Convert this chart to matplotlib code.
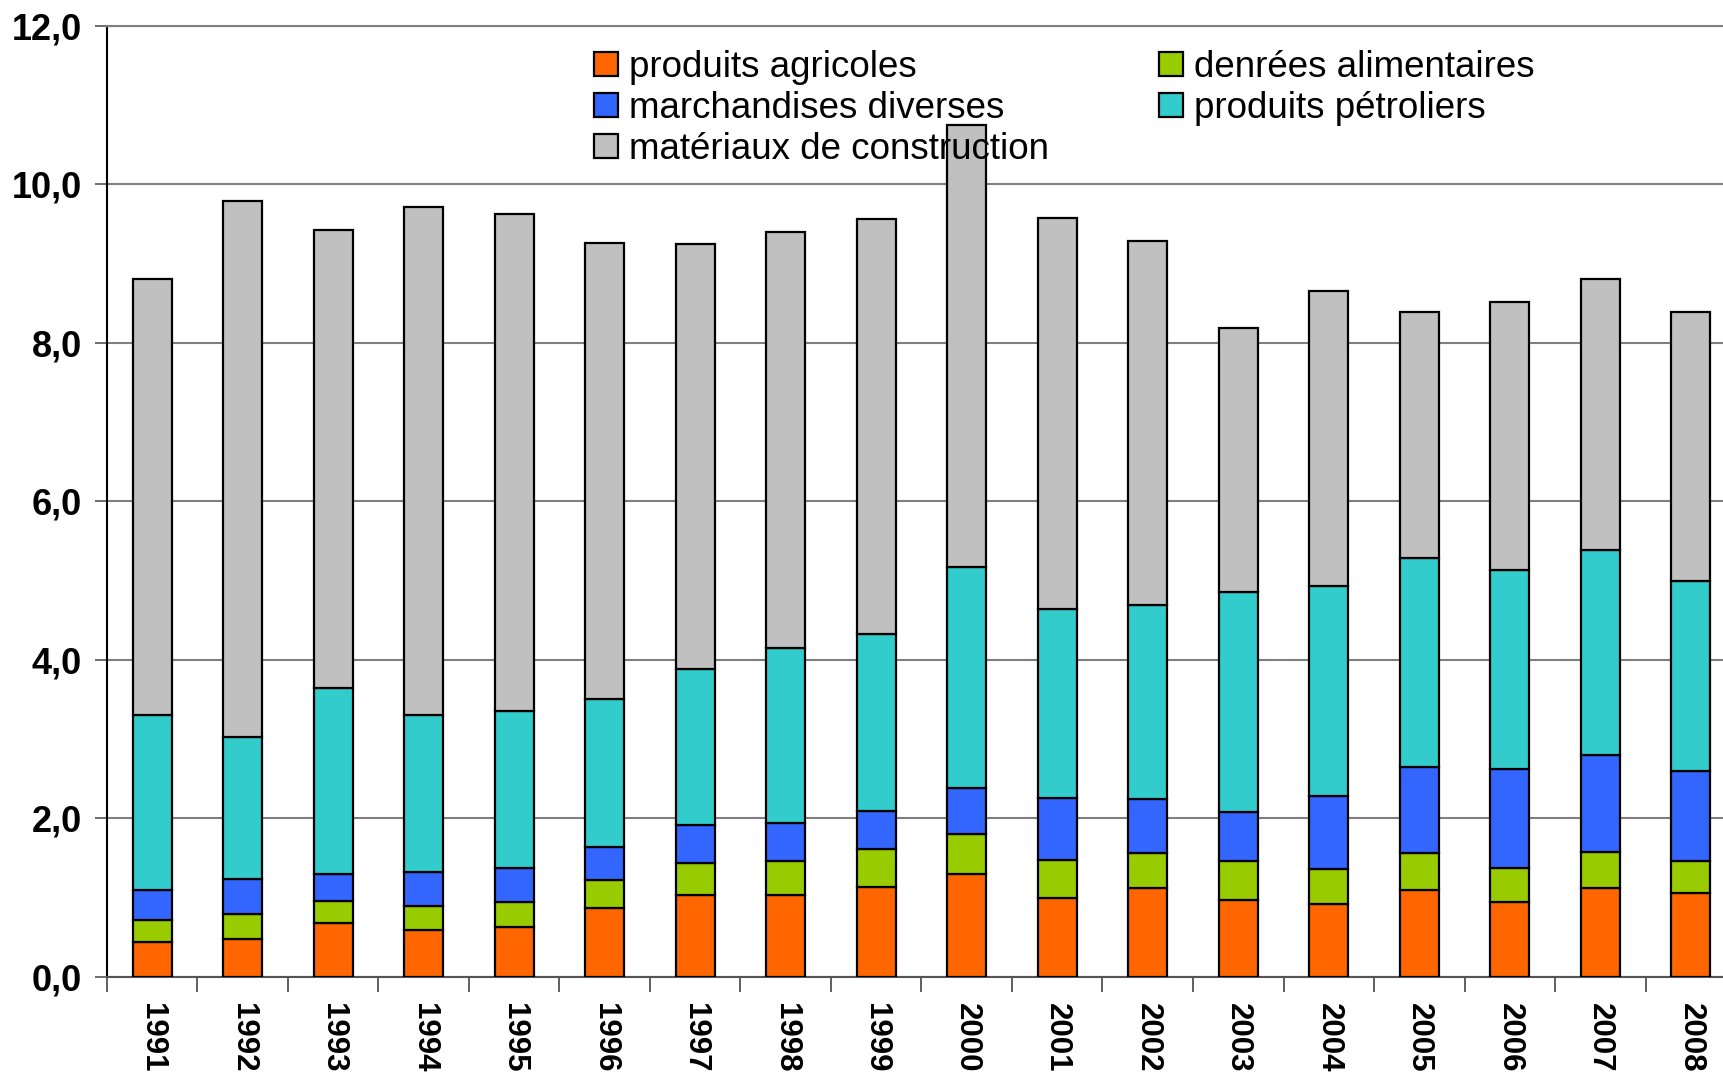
import numpy as np
import matplotlib
matplotlib.use("Agg")
import matplotlib.pyplot as plt
from matplotlib.patches import Patch
from matplotlib.ticker import FuncFormatter, MultipleLocator

plt.rcParams['font.family'] = ['Liberation Sans', 'DejaVu Sans']

years = ['1991', '1992', '1993', '1994', '1995', '1996', '1997', '1998', '1999',
         '2000', '2001', '2002', '2003', '2004', '2005', '2006', '2007', '2008']

# values per category (stack order bottom -> top)
agricoles = [0.44, 0.48, 0.68, 0.59, 0.63, 0.87, 1.04, 1.04, 1.14,
             1.30, 1.00, 1.12, 0.97, 0.92, 1.10, 0.94, 1.12, 1.06]
denrees = [0.28, 0.32, 0.28, 0.31, 0.31, 0.35, 0.40, 0.42, 0.48,
           0.50, 0.48, 0.44, 0.49, 0.44, 0.46, 0.44, 0.46, 0.40]
marchandises = [0.38, 0.44, 0.34, 0.42, 0.44, 0.42, 0.48, 0.48, 0.48,
                0.58, 0.78, 0.68, 0.62, 0.92, 1.09, 1.24, 1.22, 1.14]
petroliers = [2.21, 1.79, 2.34, 1.99, 1.98, 1.87, 1.96, 2.21, 2.23,
              2.79, 2.38, 2.45, 2.78, 2.65, 2.64, 2.51, 2.59, 2.39]
construction = [5.50, 6.76, 5.79, 6.40, 6.27, 5.75, 5.37, 5.25, 5.23,
                5.58, 4.94, 4.60, 3.33, 3.72, 3.10, 3.38, 3.42, 3.40]

series = [
    ('produits agricoles', agricoles, '#FF6600'),
    ('denrées alimentaires', denrees, '#99CC00'),
    ('marchandises diverses', marchandises, '#3366FF'),
    ('produits pétroliers', petroliers, '#33CCCC'),
    ('matériaux de construction', construction, '#C0C0C0'),
]

fig = plt.figure(figsize=(17.24, 10.76), dpi=100)
ax = fig.add_axes([0.062, 0.092, 0.945, 0.884])

x = np.arange(len(years))
bottom = np.zeros(len(years))
handles = {}
for name, vals, col in series:
    ax.bar(x, vals, width=0.43, bottom=bottom, color=col,
           edgecolor='black', linewidth=1.6, zorder=3)
    bottom += np.array(vals)
    handles[name] = Patch(facecolor=col, edgecolor='black', linewidth=1.6)

ax.set_xlim(-0.5, len(years) - 0.5)
ax.set_ylim(0, 12)
ax.set_axisbelow(True)

# y axis
ax.yaxis.set_major_locator(MultipleLocator(2))
ax.yaxis.set_major_formatter(FuncFormatter(lambda v, p: f"{v:.1f}".replace('.', ',')))
ax.grid(axis='y', color='#7f7f7f', linewidth=1.5, zorder=0)
ax.tick_params(axis='y', direction='out', length=9, width=1.2, color='#555555',
               pad=9, labelsize=26)
for lab in ax.get_yticklabels():
    lab.set_fontweight('bold')

# x axis: labels under bars, ticks between categories
ax.set_xticks(x)
ax.set_xticklabels(years, rotation=-90, fontsize=22.5, fontweight='bold',
                   va='top', ha='center')
ax.set_xticks(np.arange(-0.5, len(years)), minor=True)
ax.tick_params(axis='x', which='major', length=0, pad=19)
ax.tick_params(axis='x', which='minor', direction='out', length=11, width=1.2,
               color='#444444')

ax.spines['left'].set_color('black')
ax.spines['left'].set_linewidth(1.5)
ax.spines['bottom'].set_color('#555555')
ax.spines['bottom'].set_linewidth(1.5)
ax.spines['top'].set_color('#7f7f7f')
ax.spines['top'].set_linewidth(1.5)
ax.spines['right'].set_visible(False)

# legend filled row by row (matplotlib fills by column)
order = ['produits agricoles', 'marchandises diverses', 'matériaux de construction',
         'denrées alimentaires', 'produits pétroliers']
ax.legend([handles[n] for n in order], order, ncol=2, loc='upper left',
          bbox_to_anchor=(0.29, 0.99), frameon=False, fontsize=26.5,
          handlelength=0.65, handleheight=0.65, handletextpad=0.3,
          columnspacing=3.0, labelspacing=0.16, borderaxespad=0)

fig.savefig('out.png', dpi=100, facecolor='white')
